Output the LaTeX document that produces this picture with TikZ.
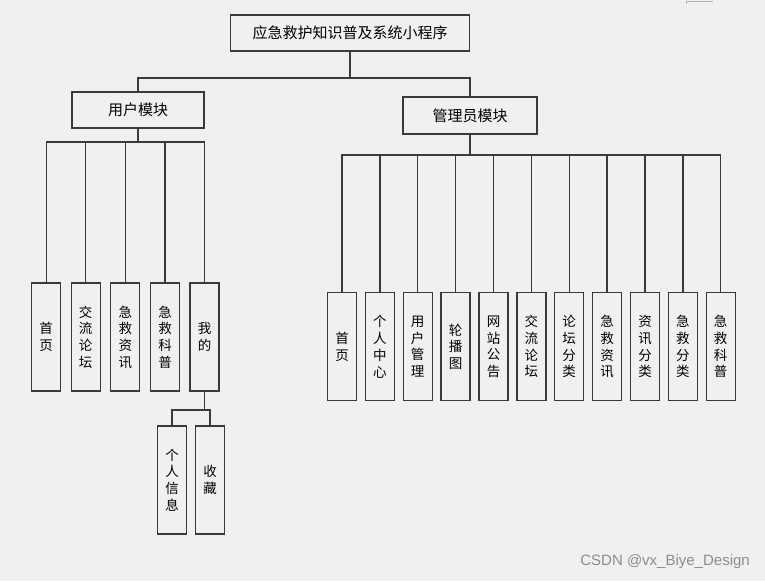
\documentclass[tikz,border=0pt]{standalone}
\usepackage{fontspec}
\newfontfamily\cjk{Noto Sans CJK SC}
\newfontfamily\wm{Liberation Sans}
\definecolor{bgc}{HTML}{F0F0F0}
\definecolor{lnc}{HTML}{3A3A3A}
\definecolor{wmc}{HTML}{8C8C8C}
\begin{document}
\begin{tikzpicture}[x=1pt,y=-1pt,
  box/.style={draw=lnc,line width=1.3pt,fill=bgc,inner sep=0pt,font=\cjk\fontsize{15}{17}\selectfont},
  leafbox/.style={draw=lnc,line width=1.3pt,fill=bgc,inner sep=0pt,minimum width=29pt,minimum height=108pt,align=center,font=\cjk\fontsize{13.5}{16.7}\selectfont},
  conn/.style={draw=lnc,line width=1.4pt}]
\fill[bgc] (0,0) rectangle (765,581);
\useasboundingbox (0,0) rectangle (765,581);
\draw[line width=1pt,color=gray!60] (686,4) -- (686,1) -- (713,1);
% top
\node[box,minimum width=239pt,minimum height=36pt] (top) at (350,33) {应急救护知识普及系统小程序};
\node[box,minimum width=132pt,minimum height=36pt] (u) at (138,110) {用户模块};
\node[box,minimum width=134pt,minimum height=37pt] (a) at (470,115.5) {管理员模块};
\coordinate (j1) at (350,78);
\draw[conn] (top.south) -- (j1);
\draw[conn] (u.north) |- (j1) -| (a.north);
% user leaves
\node[leafbox] (l1) at (46.2,337) {首\\页};
\node[leafbox] (l2) at (85.7,337) {交\\流\\论\\坛};
\node[leafbox] (l3) at (125.3,337) {急\\救\\资\\讯};
\node[leafbox] (l4) at (165,337) {急\\救\\科\\普};
\node[leafbox] (l5) at (204.5,337) {我\\的};
\coordinate (j2) at (138,142);
\draw[conn] (u.south) -- (j2);
\foreach \k in {l1,l2,l3,l4,l5} \draw[conn] (\k.north) |- (j2);
% sub leaves
\node[leafbox] (s1) at (172,480) {个\\人\\信\\息};
\node[leafbox] (s2) at (210,480) {收\\藏};
\coordinate (j4) at (204.5,410);
\draw[conn] (l5.south) -- (j4);
\draw[conn] (s1.north) |- (j4);
\draw[conn] (s2.north) |- (j4);
% admin leaves
\node[leafbox] (r1) at (342.0,346.7) {首\\页};
\node[leafbox] (r2) at (379.9,346.7) {个\\人\\中\\心};
\node[leafbox] (r3) at (417.7,346.7) {用\\户\\管\\理};
\node[leafbox] (r4) at (455.6,346.7) {轮\\播\\图};
\node[leafbox] (r5) at (493.5,346.7) {网\\站\\公\\告};
\node[leafbox] (r6) at (531.4,346.7) {交\\流\\论\\坛};
\node[leafbox] (r7) at (569.2,346.7) {论\\坛\\分\\类};
\node[leafbox] (r8) at (607.1,346.7) {急\\救\\资\\讯};
\node[leafbox] (r9) at (645.0,346.7) {资\\讯\\分\\类};
\node[leafbox] (r10) at (682.8,346.7) {急\\救\\分\\类};
\node[leafbox] (r11) at (720.7,346.7) {急\\救\\科\\普};
\coordinate (j3) at (470,155);
\draw[conn] (a.south) -- (j3);
\foreach \k in {r1,r2,r3,r4,r5,r6,r7,r8,r9,r10,r11} \draw[conn] (\k.north) |- (j3);
% watermark
\node[font=\wm\fontsize{15}{17}\selectfont,text=wmc,anchor=east,inner sep=0pt] (wm) at (750,562) {CSDN @vx\_Biye\_Design};
\end{tikzpicture}
\end{document}
